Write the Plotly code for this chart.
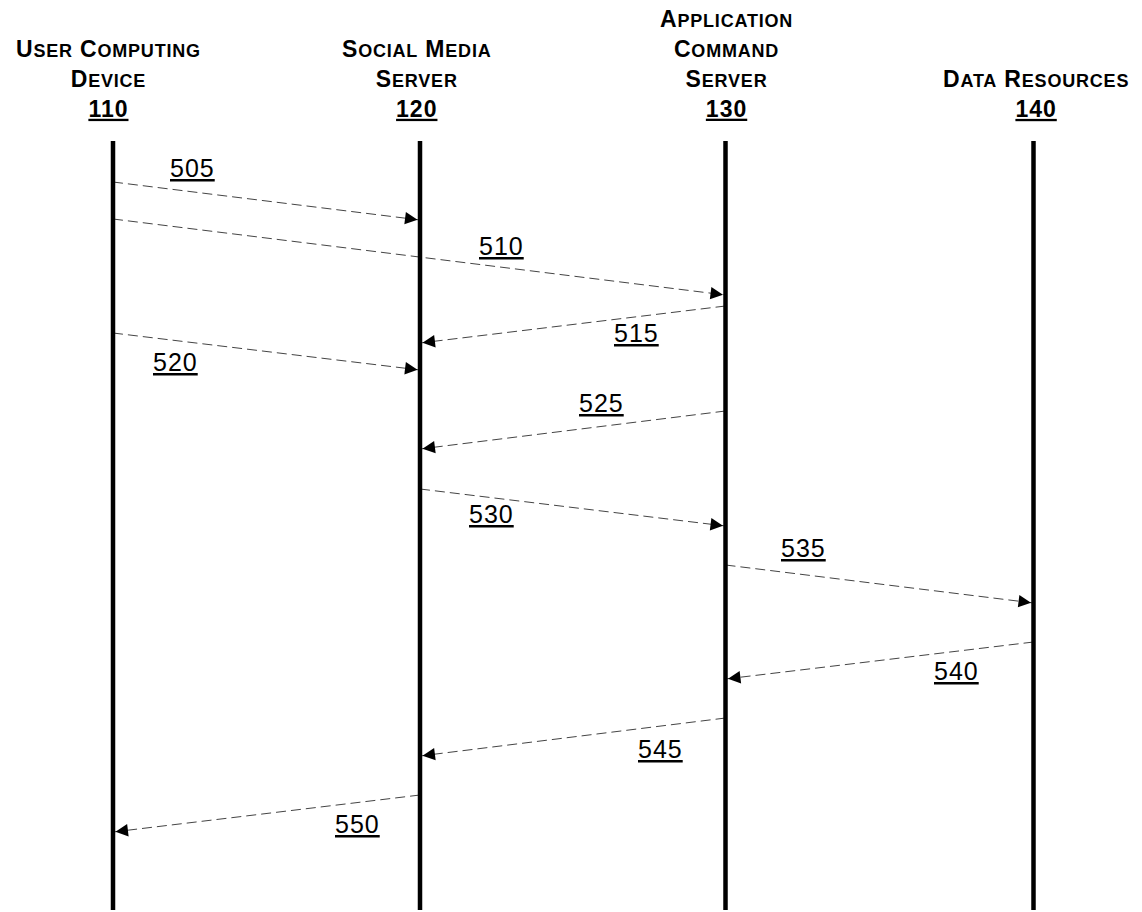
import math
import plotly.graph_objects as go

# ---------------- data ----------------
participant_lines = [
    ["User Computing", "Device"],
    ["Social Media", "Server"],
    ["Application", "Command", "Server"],
    ["Data Resources"],
]
participant_ids = ["110", "120", "130", "140"]
lifeline_x = [113, 420, 725.5, 1033.5]
header_x = [108, 417, 726, 1036]
lifeline_top = 141
lifeline_bottom = 910

msg_ids = ["505", "510", "515", "520", "525", "530", "535", "540", "545", "550"]
msg_from = [0, 0, 2, 0, 2, 1, 2, 3, 2, 1]
msg_to = [1, 2, 1, 1, 1, 2, 3, 2, 1, 0]
msg_y_start = [182, 219, 306, 333, 411, 489, 565, 642, 718, 795]
msg_y_end = [220, 295, 343, 370, 449, 526, 603, 679, 756, 832]
label_x = [192, 501, 636, 175, 601, 491, 803, 956, 660, 357]
label_y = [168, 246, 333, 362, 403, 514, 548, 671, 749, 824]

FONT = "Liberation Sans, Arial, sans-serif"

fig = go.Figure()

# dashed message lines
for i in range(len(msg_ids)):
    fig.add_trace(go.Scatter(
        x=[lifeline_x[msg_from[i]], lifeline_x[msg_to[i]]],
        y=[msg_y_start[i], msg_y_end[i]],
        mode="lines",
        line=dict(color="#444444", width=1, dash="10px,5px"),
        hoverinfo="skip",
    ))

# lifelines
lx, ly = [], []
for x in lifeline_x:
    lx += [x, x, None]
    ly += [lifeline_top, lifeline_bottom, None]
fig.add_trace(go.Scatter(x=lx, y=ly, mode="lines",
                         line=dict(color="black", width=4.5), hoverinfo="skip"))

annotations = []

# arrowheads
for i in range(len(msg_ids)):
    x0, y0 = lifeline_x[msg_from[i]], msg_y_start[i]
    x1, y1 = lifeline_x[msg_to[i]], msg_y_end[i]
    dx, dy = x1 - x0, y1 - y0
    n = math.hypot(dx, dy)
    ux, uy = dx / n, dy / n
    annotations.append(dict(
        x=x1, y=y1, xref="x", yref="y",
        ax=-ux * 16, ay=-uy * 16,
        text="", showarrow=True, arrowhead=2, arrowsize=2.5,
        arrowwidth=1, arrowcolor="black", standoff=2.5,
    ))

# message labels
for i in range(len(msg_ids)):
    annotations.append(dict(
        x=label_x[i], y=label_y[i], xref="x", yref="y",
        text=f"<span style='letter-spacing:1px'><u>{msg_ids[i]}</u></span>",
        showarrow=False, xanchor="center", yanchor="middle",
        font=dict(family=FONT, size=25, color="black"),
    ))


def small_caps(text):
    words = []
    for w in text.split(" "):
        words.append(w[0].upper() +
                     f"<span style='font-size:18px'>{w[1:].upper()}</span>")
    return " ".join(words)


# headers
for i, lines in enumerate(participant_lines):
    rows = [f"<span style='letter-spacing:0.8px'><b>{small_caps(t)}</b></span>" for t in lines]
    rows.append(f"<span style='letter-spacing:1px;text-decoration-thickness:2.5px'>"
                f"<b><u>{participant_ids[i]}</u></b></span>")
    annotations.append(dict(
        x=header_x[i], y=124, xref="x", yref="y",
        text="<br>".join(rows),
        showarrow=False, xanchor="center", yanchor="bottom", align="center",
        font=dict(family=FONT, size=23, color="black"),
    ))

fig.update_layout(
    width=1142, height=912,
    margin=dict(l=0, r=0, t=0, b=0),
    paper_bgcolor="white", plot_bgcolor="white",
    showlegend=False,
    xaxis=dict(range=[0, 1142], visible=False, fixedrange=True),
    yaxis=dict(range=[912, 0], visible=False, fixedrange=True),
    annotations=annotations,
)

fig.write_html("out.html", config={"displayModeBar": False},
               post_script="document.body.style.margin='0';document.body.style.overflow='hidden';")
